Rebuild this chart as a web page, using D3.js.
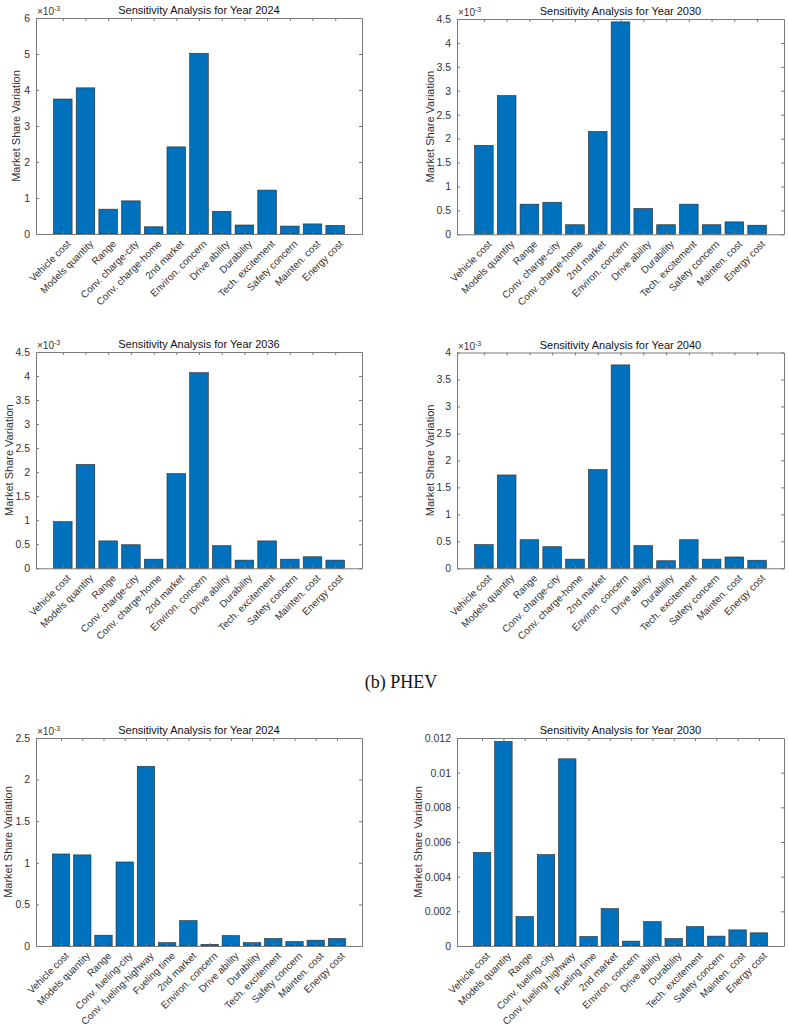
<!DOCTYPE html>
<html>
<head>
<meta charset="utf-8">
<script src="https://cdn.jsdelivr.net/npm/d3@7"></script>
<style>
  html, body { margin: 0; padding: 0; background: #fff; }
  svg { display: block; }
</style>
</head>
<body>
<svg id="chart" width="789" height="1030"></svg>
<script>
// ---------------- DATA ----------------
const catsBEV = ["Vehicle cost","Models quantity","Range","Conv. charge-city","Conv. charge-home","2nd market","Environ. concern","Drive ability","Durability","Tech. excitement","Safety concern","Mainten. cost","Energy cost"];
const catsPHEV = ["Vehicle cost","Models quantity","Range","Conv. fueling-city","Conv. fueling-highway","Fueling time","2nd market","Environ. concern","Drive ability","Durability","Tech. excitement","Safety concern","Mainten. cost","Energy cost"];

const bev2024 = [3.75e-3, 4.06e-3, 0.69e-3, 0.92e-3, 0.20e-3, 2.42e-3, 5.02e-3, 0.63e-3, 0.25e-3, 1.22e-3, 0.22e-3, 0.28e-3, 0.24e-3];
const bev2030 = [1.86e-3, 2.90e-3, 0.63e-3, 0.67e-3, 0.20e-3, 2.15e-3, 4.44e-3, 0.54e-3, 0.20e-3, 0.63e-3, 0.20e-3, 0.26e-3, 0.19e-3];
const bev2036 = [0.97e-3, 2.16e-3, 0.57e-3, 0.49e-3, 0.19e-3, 1.97e-3, 4.07e-3, 0.47e-3, 0.17e-3, 0.57e-3, 0.19e-3, 0.24e-3, 0.17e-3];
const bev2040 = [0.44e-3, 1.73e-3, 0.53e-3, 0.40e-3, 0.17e-3, 1.83e-3, 3.77e-3, 0.42e-3, 0.14e-3, 0.53e-3, 0.17e-3, 0.21e-3, 0.15e-3];
const phev2024 = [1.106e-3, 1.095e-3, 0.13e-3, 1.01e-3, 2.16e-3, 0.04e-3, 0.305e-3, 0.02e-3, 0.125e-3, 0.04e-3, 0.09e-3, 0.054e-3, 0.07e-3, 0.09e-3];
const phev2030 = [0.0054, 0.0118, 0.0017, 0.00527, 0.0108, 0.00055, 0.00216, 0.00028, 0.00141, 0.00043, 0.00112, 0.00057, 0.00093, 0.00076];

const ticks2024a = [0, 1e-3, 2e-3, 3e-3, 4e-3, 5e-3, 6e-3];
const ticks45 = [0, 0.5e-3, 1e-3, 1.5e-3, 2e-3, 2.5e-3, 3e-3, 3.5e-3, 4e-3, 4.5e-3];
const ticks40 = [0, 0.5e-3, 1e-3, 1.5e-3, 2e-3, 2.5e-3, 3e-3, 3.5e-3, 4e-3];
const ticks25 = [0, 0.5e-3, 1e-3, 1.5e-3, 2e-3, 2.5e-3];
const ticks012 = [0, 0.002, 0.004, 0.006, 0.008, 0.01, 0.012];

const titles = ["Sensitivity Analysis for Year 2024","Sensitivity Analysis for Year 2030","Sensitivity Analysis for Year 2036","Sensitivity Analysis for Year 2040","Sensitivity Analysis for Year 2024","Sensitivity Analysis for Year 2030"];
const yLabel = "Market Share Variation";
const caption = "(b) PHEV";

// ---------------- LAYOUT ----------------
const panels = [
  {cats: catsBEV,  vals: bev2024,  ticks: ticks2024a, exp: true,  title: titles[0], L: 36,  R: 362, T: 18,  B: 234, ylx: 16},
  {cats: catsBEV,  vals: bev2030,  ticks: ticks45,    exp: true,  title: titles[1], L: 457, R: 784, T: 19,  B: 234.3, ylx: 430},
  {cats: catsBEV,  vals: bev2036,  ticks: ticks45,    exp: true,  title: titles[2], L: 36,  R: 362, T: 352, B: 568.3, ylx: 9},
  {cats: catsBEV,  vals: bev2040,  ticks: ticks40,    exp: true,  title: titles[3], L: 457, R: 784, T: 352.5, B: 568.3, ylx: 430},
  {cats: catsPHEV, vals: phev2024, ticks: ticks25,    exp: true,  title: titles[4], L: 36,  R: 362, T: 738, B: 946, ylx: 8},
  {cats: catsPHEV, vals: phev2030, ticks: ticks012,   exp: false, title: titles[5], L: 457, R: 784, T: 738, B: 946, ylx: 418}
];

const svg = d3.select("#chart");
const FONT = "'Liberation Sans', Arial, Helvetica, sans-serif";
const boxColor = "#7a7a7a";
const textColor = "#333333";
const barColor = "#0072BD";

panels.forEach(p => {
  const n = p.cats.length;
  const x = d3.scaleLinear().domain([-0.18, n + 1.18]).range([p.L, p.R]);
  const ymax = p.ticks[p.ticks.length - 1];
  const y = d3.scaleLinear().domain([0, ymax]).range([p.B, p.T]);
  const g = svg.append("g");
  const idx = d3.range(1, n + 1);
  const bw = 0.82;

  g.selectAll("rect.bar").data(p.vals).join("rect")
    .attr("class", "bar")
    .attr("x", (d, i) => x(i + 1 - bw / 2))
    .attr("width", (d, i) => x(i + 1 + bw / 2) - x(i + 1 - bw / 2))
    .attr("y", d => y(d))
    .attr("height", d => y(0) - y(d))
    .attr("fill", barColor)
    .attr("stroke", "#2a2a2a")
    .attr("stroke-width", 0.6);

  const fmt = p.exp ? (d => String(+(d * 1000).toFixed(2))) : (d => String(+d.toFixed(3)));
  const yAxisL = d3.axisLeft(y).tickValues(p.ticks).tickFormat(fmt).tickSizeInner(-3).tickSizeOuter(0).tickPadding(6);
  const yAxisR = d3.axisRight(y).tickValues(p.ticks).tickFormat("").tickSizeInner(-3).tickSizeOuter(0);
  const xAxisB = d3.axisBottom(x).tickValues(idx).tickFormat("").tickSizeInner(-3).tickSizeOuter(0);
  const xAxisT = d3.axisTop(x).tickValues(idx).tickFormat("").tickSizeInner(-3).tickSizeOuter(0);

  const styleAxis = sel => {
    sel.selectAll("path.domain").attr("stroke", boxColor).attr("stroke-width", 1);
    sel.selectAll(".tick line").attr("stroke", boxColor).attr("stroke-width", 1);
    sel.selectAll(".tick text").attr("fill", textColor).style("font-family", FONT).style("font-size", "10.5px");
  };

  g.append("g").attr("transform", `translate(${p.L},0)`).call(yAxisL).call(styleAxis);
  g.append("g").attr("transform", `translate(${p.R},0)`).call(yAxisR).call(styleAxis);
  g.append("g").attr("transform", `translate(0,${p.B})`).call(xAxisB).call(styleAxis);
  g.append("g").attr("transform", `translate(0,${p.T})`).call(xAxisT).call(styleAxis);

  g.selectAll("text.cat").data(p.cats).join("text")
    .attr("class", "cat")
    .attr("transform", (d, i) => `translate(${x(i + 1) + 6},${p.B + 8}) rotate(-45)`)
    .attr("text-anchor", "end")
    .attr("dy", "0.35em")
    .attr("fill", textColor)
    .style("font-family", FONT)
    .style("font-size", "10px")
    .text(d => d);

  g.append("text")
    .attr("x", (p.L + p.R) / 2)
    .attr("y", p.T - 4)
    .attr("text-anchor", "middle")
    .attr("fill", "#111")
    .style("font-family", FONT)
    .style("font-size", "11px")
    .text(p.title);

  g.append("text")
    .attr("transform", `translate(${p.ylx},${(p.T + p.B) / 2}) rotate(-90)`)
    .attr("text-anchor", "middle")
    .attr("dy", "0.35em")
    .attr("fill", textColor)
    .style("font-family", FONT)
    .style("font-size", "11px")
    .text(yLabel);

  if (p.exp) {
    const t = g.append("text")
      .attr("x", p.L + 1)
      .attr("y", p.T - 3)
      .attr("fill", textColor)
      .style("font-family", FONT)
      .style("font-size", "10px");
    t.append("tspan").text("×10");
    t.append("tspan").attr("dy", -4).style("font-size", "7px").text("-3");
  }
});

svg.append("text")
  .attr("x", 401)
  .attr("y", 688)
  .attr("text-anchor", "middle")
  .attr("fill", "#111")
  .style("font-family", "'Liberation Serif', 'Times New Roman', serif")
  .style("font-size", "18px")
  .text(caption);
</script>
</body>
</html>
